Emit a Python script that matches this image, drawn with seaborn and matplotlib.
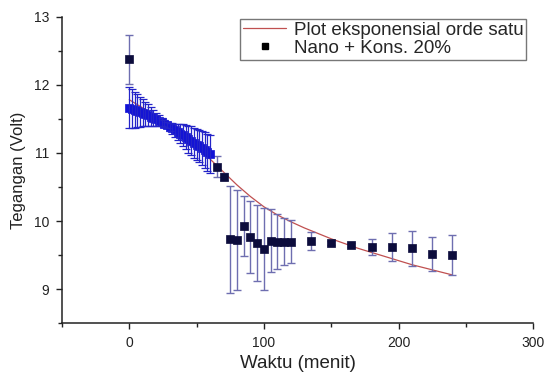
import matplotlib
matplotlib.use("Agg")
import matplotlib.pyplot as plt
from matplotlib.lines import Line2D
from matplotlib.ticker import MultipleLocator
import seaborn as sns
import pandas as pd

# ---- data ----
dense_x = [0, 2, 4, 6, 8, 10, 12, 14, 16, 18, 20, 22, 24, 26, 28, 30,
           32, 34, 36, 38, 40, 42, 44, 46, 48, 50, 52, 54, 56, 58, 60]
dense_y = [11.66, 11.65, 11.63, 11.62, 11.60, 11.59, 11.57, 11.55, 11.53, 11.51,
           11.49, 11.47, 11.45, 11.43, 11.41, 11.38, 11.36, 11.33, 11.31, 11.28,
           11.26, 11.23, 11.20, 11.18, 11.15, 11.12, 11.10, 11.07, 11.04, 11.01, 10.98]
dense_err = [0.30, 0.28, 0.26, 0.24, 0.22, 0.20, 0.18, 0.16, 0.14, 0.12,
             0.10, 0.08, 0.06, 0.05, 0.05, 0.06, 0.08, 0.10, 0.12, 0.14,
             0.16, 0.18, 0.20, 0.21, 0.22, 0.23, 0.24, 0.25, 0.26, 0.27, 0.28]

sparse_x = [0, 65, 70, 75, 80, 85, 90, 95, 100, 105, 110, 115, 120,
            135, 150, 165, 180, 195, 210, 225, 240]
sparse_y = [12.37, 10.80, 10.65, 9.73, 9.72, 9.93, 9.77, 9.68, 9.59, 9.71, 9.70,
            9.70, 9.70, 9.71, 9.68, 9.65, 9.62, 9.62, 9.60, 9.52, 9.50]
sparse_err = [0.36, 0.15, 0.05, 0.78, 0.73, 0.44, 0.53, 0.56, 0.60, 0.46, 0.41,
              0.35, 0.31, 0.13, 0.03, 0.03, 0.12, 0.20, 0.26, 0.25, 0.29]

fit_x = [0, 10, 20, 30, 40, 50, 60, 70, 80, 90, 100, 110, 120, 130, 140,
         150, 160, 170, 180, 190, 200, 210, 220, 230, 240]
fit_y = [11.78, 11.66, 11.53, 11.39, 11.24, 11.08, 10.91, 10.72, 10.53, 10.36,
         10.21, 10.09, 9.99, 9.90, 9.82, 9.74, 9.67, 9.60, 9.54, 9.48,
         9.42, 9.36, 9.31, 9.26, 9.21]

x_ticks = [0, 100, 200, 300]
y_ticks = [9, 10, 11, 12, 13]

label_fit = "Plot eksponensial orde satu"
label_pts = "Nano + Kons. 20%"
xlabel = "Waktu (menit)"
ylabel = "Tegangan (Volt)"

# ---- style ----
sns.set_theme(style="ticks")
plt.rcParams["font.family"] = ["Liberation Sans", "DejaVu Sans"]

fig = plt.figure(figsize=(5.48, 3.76), dpi=100)
ax = fig.add_axes([0.113, 0.140, 0.860, 0.816])

fit_df = pd.DataFrame({"x": fit_x, "y": fit_y})
sns.lineplot(data=fit_df, x="x", y="y", ax=ax, color="#c05050", linewidth=0.9,
             zorder=2, legend=False)

marker_dark = "#0c0c3c"
# sparse points
ax.errorbar(sparse_x, sparse_y, yerr=sparse_err, fmt="none", ecolor="#6e6eb0",
            elinewidth=1.0, capsize=3, capthick=1.0, zorder=3)
sns.scatterplot(x=sparse_x, y=sparse_y, ax=ax, marker="s", s=36, color=marker_dark,
                edgecolor=marker_dark, linewidth=0.5, zorder=4, legend=False)
# dense points
sns.scatterplot(x=dense_x, y=dense_y, ax=ax, marker="s", s=40, color="#1212d6",
                edgecolor="#1212d6", linewidth=0.5, zorder=4, legend=False)
ax.errorbar(dense_x, dense_y, yerr=dense_err, fmt="none", ecolor="#2424c8",
            elinewidth=0.9, capsize=3, capthick=0.9, zorder=5)

ax.set_xlim(-50, 300)
ax.set_ylim(8.5, 13)
ax.set_xticks(x_ticks)
ax.set_yticks(y_ticks)
ax.xaxis.set_minor_locator(MultipleLocator(50))
ax.yaxis.set_minor_locator(MultipleLocator(0.5))
ax.tick_params(axis="both", which="major", direction="out", length=4, width=1.0,
               labelsize=10, colors="#222222", pad=5)
ax.tick_params(axis="both", which="minor", direction="out", length=3, width=1.0,
               colors="#222222")
for s in ["top", "right"]:
    ax.spines[s].set_visible(False)
for s in ["left", "bottom"]:
    ax.spines[s].set_color("#222222")
    ax.spines[s].set_linewidth(1.1)

ax.set_xlabel(xlabel, fontsize=13.5, color="#222222", labelpad=4)
ax.set_ylabel(ylabel, fontsize=12, color="#222222", labelpad=6)

handles = [Line2D([0], [0], color="#c05050", linewidth=0.9),
           Line2D([0], [0], linestyle="none", marker="s", markersize=5,
                  color="black")]
leg = ax.legend(handles, [label_fit, label_pts], loc="upper right",
                bbox_to_anchor=(0.985, 0.993), borderaxespad=0, fontsize=13.5,
                frameon=True, fancybox=False, edgecolor="#777777", framealpha=1,
                handlelength=2.3, handletextpad=0.4, borderpad=0.15,
                labelspacing=0.05)
leg.get_frame().set_linewidth(1.0)

fig.savefig("out.png", dpi=100)
